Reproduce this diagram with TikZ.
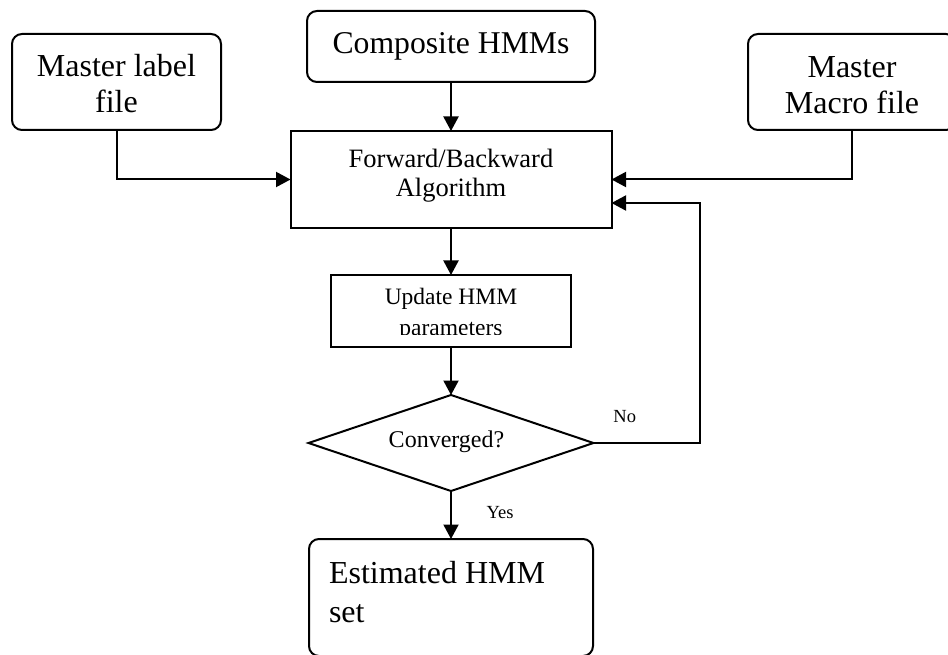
\documentclass[tikz,border=0pt]{standalone}
\usepackage{fontspec}
\setmainfont{Liberation Serif}
\usetikzlibrary{shapes.geometric,arrows.meta}
\begin{document}
\begin{tikzpicture}[x=1pt,y=-1pt,
  every node/.style={inner sep=0pt, outer sep=0pt},
  rbox/.style={draw, line width=2pt, rounded corners=10pt},
  sbox/.style={draw, line width=2pt},
  dbox/.style={diamond, draw, line width=2pt},
  arr/.style={line width=2pt, -{Triangle[length=14.5pt,width=15pt]}},
  big/.style={font=\fontsize{32}{36}\selectfont},
  mid/.style={font=\fontsize{26.5}{29.5}\selectfont},
  small/.style={font=\fontsize{23.5}{28}\selectfont},
  tiny/.style={font=\fontsize{18.5}{22}\selectfont}]
\useasboundingbox (0,0) rectangle (948,655);
\clip (0,0) rectangle (948,655);

% boxes
\node[rbox, minimum width=209pt, minimum height=96pt] (ml) at (116.5,82) {};
\node[rbox, minimum width=288pt, minimum height=71pt] (comp) at (451,46.5) {};
\node[rbox, minimum width=208pt, minimum height=96pt] (mm) at (852,82) {};
\node[sbox, minimum width=321pt, minimum height=97pt] (fb) at (451,179.5) {};
\node[sbox, minimum width=240pt, minimum height=72pt] (upd) at (451,311) {};
\node[dbox, minimum width=285pt, minimum height=96pt] (conv) at (451,443) {};
\node[rbox, minimum width=284pt, minimum height=117pt] (est) at (451,597.5) {};

% texts
\node[big, align=center] (mltxt) at (116.5,84) {Master label\\file};
\node[font=\fontsize{31.7}{36}\selectfont, anchor=base] (comptxt) at (451,53.3) {Composite HMMs};
\node[big, align=center] (mmtxt) at (852,84.7) {Master\\Macro file};
\node[mid, align=center] (fbtxt) at (451,175.5) {Forward/Backward\\Algorithm};
\begin{scope}
  \clip (331,275) rectangle (571,334.5);
  \node[small, anchor=base] (updtxta) at (451,304) {Update HMM};
  \node[small, anchor=base] (updtxtb) at (451,335.5) {parameters};
\end{scope}
\node[font=\fontsize{24}{28}\selectfont, anchor=base] (convtxt) at (446.5,447) {Converged?};
\node[font=\fontsize{32}{39}\selectfont, align=left, anchor=north west] (esttxt) at (329,561) {Estimated HMM\\set};
\node[tiny, anchor=base] (no) at (624.7,422.5) {No};
\node[tiny, anchor=base] (yes) at (500,518.5) {Yes};

% connectors
\coordinate (loopturn) at (700,443);
\coordinate (fbback) at (611.5,203);
\draw[arr] (comp.south) -- (fb.north);
\draw[arr] (ml.south) |- (fb.west);
\draw[arr] (mm.south) |- (fb.east);
\draw[arr] (fb.south) -- (upd.north);
\draw[arr] (upd.south) -- (conv.north);
\draw[arr] (conv.south) -- (est.north);
\draw[arr] (conv.east) -- (loopturn) |- (fbback);
\end{tikzpicture}
\end{document}
